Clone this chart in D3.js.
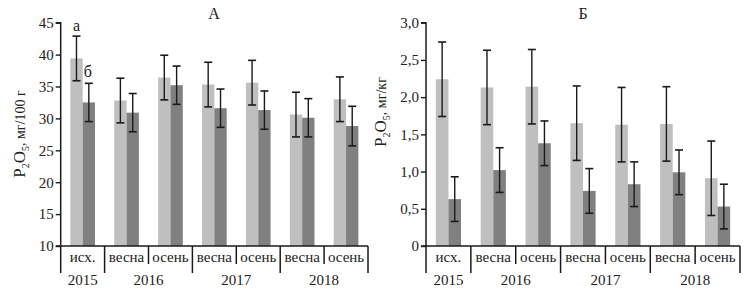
<!DOCTYPE html>
<html><head><meta charset="utf-8">
<script src="https://cdn.jsdelivr.net/npm/d3@7"></script>
<style>body{margin:0;background:#fff}svg{display:block}text{font-family:"Liberation Serif","Times New Roman",serif;fill:#222}</style>
</head><body>
<script>
const categories = ["исх.","весна","осень","весна","осень","весна","осень"];
const years = [{label:"2015",from:0,to:1},{label:"2016",from:1,to:3},{label:"2017",from:3,to:5},{label:"2018",from:5,to:7}];
const yTicksA = [10,15,20,25,30,35,40,45];
const yTicksB = [0,0.5,1,1.5,2,2.5,3];
// Panel A: P2O5 mg/100 g
const aLight = [39.4,32.8,36.4,35.3,35.6,30.6,33.0];
const aLightErr = [3.5,3.5,3.5,3.5,3.5,3.5,3.5];
const aDark = [32.5,30.9,35.2,31.6,31.3,30.1,28.8];
const aDarkErr = [3.0,3.0,3.0,3.0,3.0,3.0,3.1];
// Panel B: P2O5 mg/kg
const bLight = [2.24,2.13,2.14,1.65,1.63,1.64,0.91];
const bLightErr = [0.5,0.5,0.5,0.5,0.5,0.5,0.5];
const bDark = [0.63,1.02,1.38,0.74,0.83,0.99,0.53];
const bDarkErr = [0.3,0.3,0.3,0.3,0.3,0.3,0.3];

const W=756,H=290;
const svg=d3.select("body").append("svg").attr("width",W).attr("height",H);
const LIGHT="#bfbfbf",DARK="#808080",INK="#1a1a1a";

function panel(opt){
  const g=svg.append("g");
  const x0=d3.scaleBand().domain(d3.range(categories.length)).range([opt.x0,opt.x1]).padding(0);
  const x1=d3.scaleBand().domain(["l","d"]).range([0,x0.bandwidth()]).paddingInner(0).paddingOuter(0.78);
  const y=d3.scaleLinear().domain(opt.domain).range([246,22.7]);
  const series=[{k:"l",v:opt.light,e:opt.lightErr,c:LIGHT},{k:"d",v:opt.dark,e:opt.darkErr,c:DARK}];
  series.forEach(s=>{
    g.selectAll(null).data(s.v).enter().append("rect")
      .attr("x",(d,i)=>x0(i)+x1(s.k)).attr("width",x1.bandwidth())
      .attr("y",d=>y(d)).attr("height",d=>y(opt.domain[0])-y(d)).attr("fill",s.c);
  });
  series.forEach(s=>{
    s.v.forEach((d,i)=>{
      const cx=x0(i)+x1(s.k)+x1.bandwidth()/2;
      const t=y(d+s.e[i]),b=y(d-s.e[i]);
      g.append("line").attr("x1",cx).attr("x2",cx).attr("y1",t).attr("y2",b).attr("stroke",INK).attr("stroke-width",1.4);
      [t,b].forEach(yy=>g.append("line").attr("x1",cx-4).attr("x2",cx+4).attr("y1",yy).attr("y2",yy).attr("stroke",INK).attr("stroke-width",1.6));
    });
  });
  const ya=g.append("g").attr("transform",`translate(${opt.x0},0)`)
    .call(d3.axisLeft(y).tickValues(opt.ticks).tickSize(5).tickPadding(2).tickFormat(opt.fmt));
  ya.attr("font-family",null);
  ya.select(".domain").attr("stroke",INK).attr("stroke-width",1.5).attr("d",`M-5,246H0V${y(opt.domain[1])}H-5`);
  ya.selectAll(".tick line").attr("stroke",INK).attr("stroke-width",1.4);
  ya.selectAll(".tick text").attr("font-size",15).attr("fill","#222");
  // x axis
  g.append("line").attr("x1",opt.x0).attr("x2",opt.x1).attr("y1",246).attr("y2",246).attr("stroke",INK).attr("stroke-width",1.5);
  const bounds=d3.range(categories.length+1);
  const yearBounds=new Set(years.flatMap(yr=>[yr.from,yr.to]));
  bounds.forEach(i=>{
    const xx=i<categories.length?x0(i):opt.x1;
    g.append("line").attr("x1",xx).attr("x2",xx).attr("y1",246).attr("y2",yearBounds.has(i)?273:264).attr("stroke",INK).attr("stroke-width",1.5);
  });
  categories.forEach((c,i)=>{
    g.append("text").attr("x",x0(i)+x0.bandwidth()/2).attr("y",262).attr("text-anchor","middle").attr("font-size",15).text(c);
  });
  years.forEach(yr=>{
    const xa=x0(yr.from),xb=yr.to<categories.length?x0(yr.to):opt.x1;
    g.append("text").attr("x",(xa+xb)/2).attr("y",285).attr("text-anchor","middle").attr("font-size",15).text(yr.label);
  });
  g.append("text").attr("x",opt.titleX).attr("y",19).attr("text-anchor","middle").attr("font-size",16).text(opt.title);
  const lab=g.append("text").attr("transform",`translate(${opt.labX},${opt.labY}) rotate(-90)`).attr("text-anchor","middle").attr("font-size",14);
  lab.append("tspan").attr("font-size",17).text("P");
  lab.append("tspan").attr("font-size",10).attr("dy",4).text("2");
  lab.append("tspan").attr("font-size",17).attr("dy",-4).text("O");
  lab.append("tspan").attr("font-size",10).attr("dy",4).text("5");
  lab.append("tspan").attr("dy",-4).text(", "+opt.unit);
  return {x0,x1,y};
}
const A=panel({x0:60.7,x1:368,domain:[10,45],ticks:yTicksA,fmt:d3.format("d"),light:aLight,lightErr:aLightErr,dark:aDark,darkErr:aDarkErr,title:"А",titleX:214,labX:25,labY:134,unit:"мг/100 г"});
const B=panel({x0:426,x1:740,domain:[0,3],ticks:yTicksB,fmt:d=>d===0?"0":d3.format(".1f")(d).replace(".",","),light:bLight,lightErr:bLightErr,dark:bDark,darkErr:bDarkErr,title:"Б",titleX:583,labX:386,labY:112,unit:"мг/кг"});
// letter annotations
svg.append("text").attr("x",A.x0(0)+A.x1("l")+A.x1.bandwidth()/2).attr("y",31).attr("text-anchor","middle").attr("font-size",16).text("а");
svg.append("text").attr("x",A.x0(0)+A.x1("d")+A.x1.bandwidth()/2-1).attr("y",77).attr("text-anchor","middle").attr("font-size",16).text("б");
</script>
</body></html>
